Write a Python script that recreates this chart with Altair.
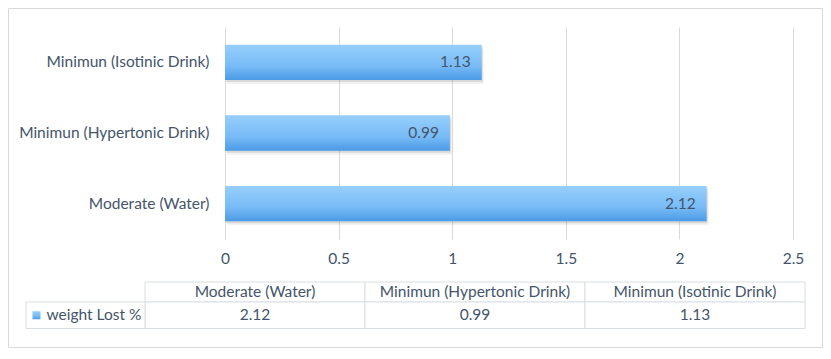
import altair as alt
import pandas as pd

# ---- data ----
categories = ["Moderate (Water)", "Minimun (Hypertonic Drink)", "Minimun (Isotinic Drink)"]
values = [2.12, 0.99, 1.13]
series_name = "weight Lost %"
x_ticks = [0, 0.5, 1, 1.5, 2, 2.5]

df = pd.DataFrame({"category": categories, "value": values})
df["label"] = [f"{v:.2f}" for v in values]
df["hdr"] = "header"
df["row"] = series_name
legend_df = pd.DataFrame({"series": [series_name], "row": [series_name]})

bar_order = list(reversed(categories))  # Excel draws first category at bottom

FONT = "Lato"
TXT = "#44546A"
GRID = "#D9D9D9"
LINE = "#D9DEE5"
FS = 15.5

grad = alt.Gradient(
    gradient="linear",
    stops=[
        alt.GradientStop(color="#96CFFC", offset=0),
        alt.GradientStop(color="#78BBF6", offset=0.6),
        alt.GradientStop(color="#4A9BE6", offset=1),
    ],
    x1=0, x2=0, y1=0, y2=1,
)

# ---- bar chart ----
y_enc = alt.Y(
    "category:N", sort=bar_order,
    scale=alt.Scale(domain=bar_order, paddingInner=0.5, paddingOuter=0.25),
    axis=alt.Axis(title=None, domain=False, ticks=False, grid=False, labelPadding=16,
                  labelFont=FONT, labelFontSize=FS, labelColor=TXT, labelLimit=400),
)
x_enc = alt.X(
    "value:Q", scale=alt.Scale(domain=[0, 2.5], nice=False, zero=True),
    axis=alt.Axis(title=None, values=x_ticks, format="~g", domain=False, ticks=False, grid=True,
                  gridColor=GRID, gridWidth=1, labelPadding=12, labelFont=FONT, labelFlush=False,
                  labelFontSize=FS, labelColor=TXT),
)

base = alt.Chart(df)
shadow2 = base.mark_bar(color="#808080", opacity=0.10, xOffset=2, yOffset=4).encode(x=x_enc, y=y_enc)
shadow1 = base.mark_bar(color="#808080", opacity=0.22, xOffset=1, yOffset=2).encode(x=x_enc, y=y_enc)
bars = base.mark_bar(color=grad).encode(x=x_enc, y=y_enc)
labels = base.mark_text(align="right", baseline="middle", dx=-11, font=FONT, fontSize=FS,
                        color=TXT).encode(x=x_enc, y=y_enc, text="label:N")
bar_layer = alt.layer(shadow2, shadow1, bars, labels)

# ---- data table below ----
tx = alt.X("category:N", sort=categories,
           scale=alt.Scale(domain=categories, range=[-80, 580], paddingInner=0, paddingOuter=0),
           axis=None)
hy = alt.Y("hdr:N", scale=alt.Scale(domain=["header"], range=[255, 275], paddingInner=0, paddingOuter=0),
           axis=None)
vy = alt.Y("row:N", scale=alt.Scale(domain=[series_name], range=[275, 301.5], paddingInner=0, paddingOuter=0),
           axis=None)

header_layer = alt.layer(
    base.mark_rect(fill="white", stroke=LINE, strokeWidth=1).encode(x=tx, y=hy),
    base.mark_text(font=FONT, fontSize=FS, color=TXT, baseline="middle").encode(x=tx, y=hy, text="category:N"),
)
value_layer = alt.layer(
    base.mark_rect(fill="white", stroke=LINE, strokeWidth=1).encode(x=tx, y=vy),
    base.mark_text(font=FONT, fontSize=FS, color=TXT, baseline="middle").encode(x=tx, y=vy, text="label:N"),
)

lx = alt.X("series:N", scale=alt.Scale(domain=[series_name], range=[-199, -80], paddingInner=0, paddingOuter=0),
           axis=None)
lx0 = alt.X("series:N", bandPosition=0,
            scale=alt.Scale(domain=[series_name], range=[-199, -80], paddingInner=0, paddingOuter=0),
            axis=None)
lbase = alt.Chart(legend_df)
legend_layer = alt.layer(
    lbase.mark_rect(fill="white", stroke=LINE, strokeWidth=1).encode(x=lx, y=vy),
    lbase.mark_square(color=grad, size=64, opacity=1, xOffset=10.5).encode(x=lx0, y=vy),
    lbase.mark_text(font=FONT, fontSize=FS, color=TXT, align="left", baseline="middle", dx=20.5).encode(
        x=lx0, y=vy, text="series:N"),
)

frame = alt.Chart(legend_df).mark_rect(fillOpacity=0, stroke=GRID, strokeWidth=1).encode(
    x=alt.value(-216.5), x2=alt.value(597.5), y=alt.value(-18.5), y2=alt.value(320.5)
)

chart = alt.layer(frame, bar_layer, header_layer, value_layer, legend_layer).resolve_scale(
    x="independent", y="independent"
).properties(
    width=568, height=212,
    autosize=alt.AutoSizeParams(type="none"),
    padding={"left": 217, "top": 19, "right": 30, "bottom": 109},
    background="white",
).configure_view(stroke=None)

chart.save("out.html", embed_options={"renderer": "svg", "actions": False})
